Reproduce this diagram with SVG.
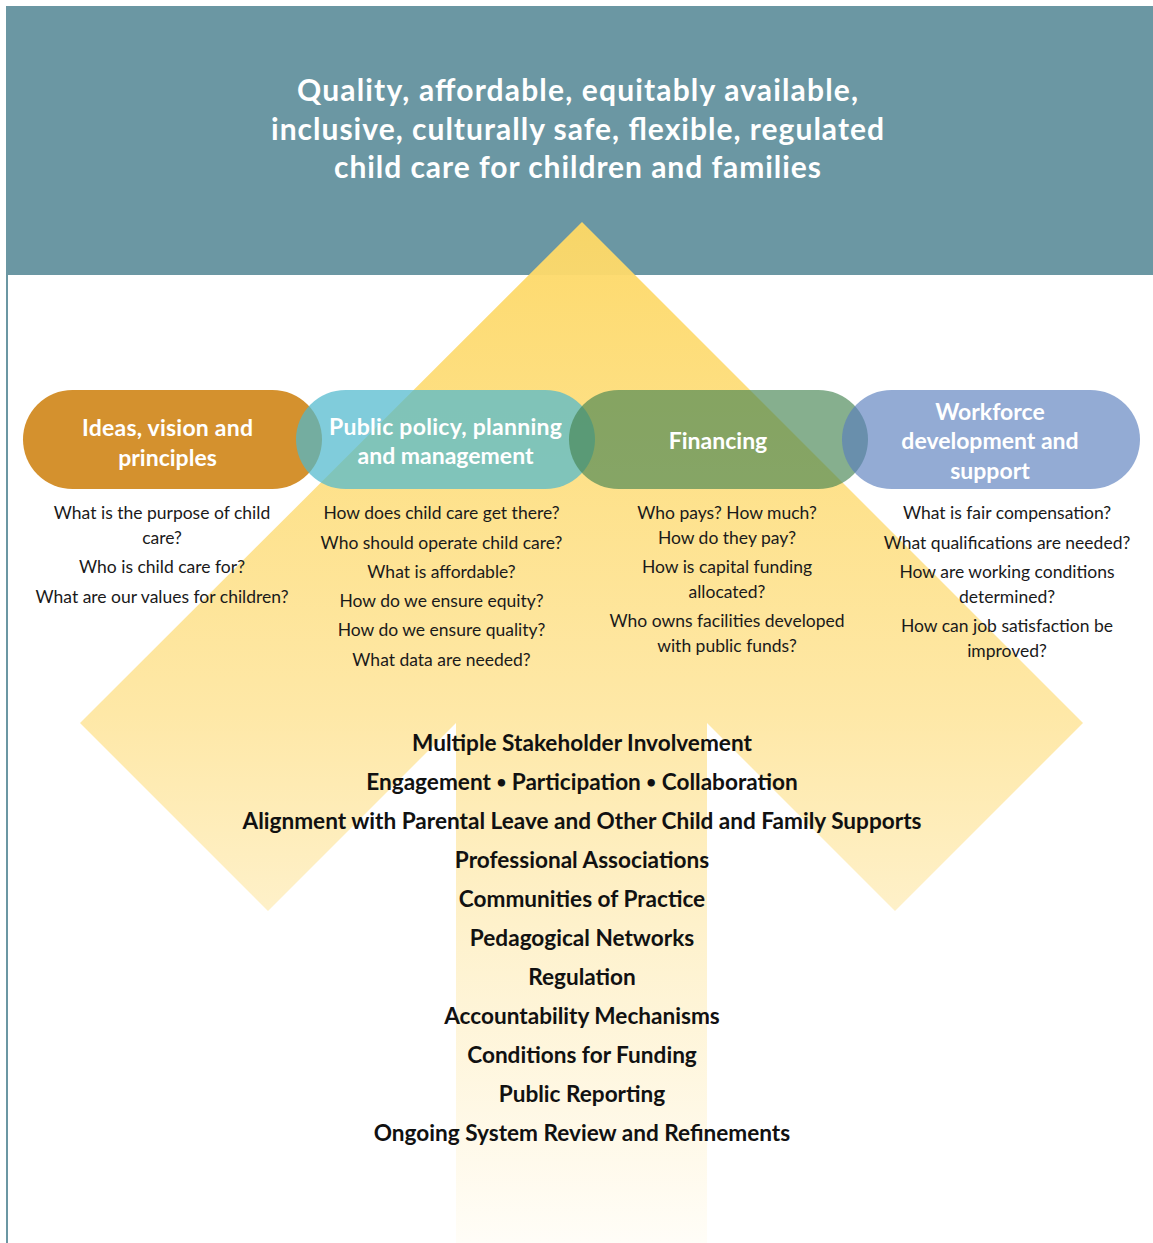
<svg xmlns="http://www.w3.org/2000/svg" width="1153" height="1243" viewBox="0 0 1153 1243">
<defs>
<linearGradient id="arrowGrad" gradientUnits="userSpaceOnUse" x1="0" y1="222" x2="0" y2="1243">
<stop offset="0" stop-color="#FDD865"/>
<stop offset="0.48" stop-color="#FEE7A3"/>
<stop offset="0.7" stop-color="#FEF1CB"/>
<stop offset="1" stop-color="#FFFDF7"/>
</linearGradient>
<style>
.title{font-family:Lato,"Liberation Sans",sans-serif;font-weight:700;font-size:30px;fill:#FFFFFF;text-anchor:middle}
.pilltxt{font-family:Lato,"Liberation Sans",sans-serif;font-weight:700;font-size:23px;fill:#FFFFFF;text-anchor:middle}
.q{font-family:Lato,"Liberation Sans",sans-serif;font-size:17.5px;fill:#1A1A1A;text-anchor:middle}
.list{font-family:Lato,"Liberation Sans",sans-serif;font-weight:700;font-size:22.6px;fill:#111111;text-anchor:middle}
</style>
</defs>
<rect x="0" y="0" width="1153" height="1243" fill="#FFFFFF"/>
<g id="banner">
<rect x="6" y="6" width="1147" height="269" fill="#6B97A3"/>
<line x1="7" y1="275" x2="7" y2="1243" stroke="#6B97A3" stroke-width="2"/>
</g>
<g id="arrow">
<polygon points="582,222 1083,723 895,911 707,723 707,1243 456,1243 456,723 268,911 80,723" fill="url(#arrowGrad)" opacity="0.96"/>
</g>
<g id="banner-text">
<text class="title" x="577.5" y="101" textLength="561">Quality, affordable, equitably available,</text>
<text class="title" x="577.5" y="140" textLength="613">inclusive, culturally safe, flexible, regulated</text>
<text class="title" x="577.5" y="178" textLength="487">child care for children and families</text>
</g>
<g id="node-ideas">
<rect x="23" y="390" width="299" height="99" rx="49.5" fill="#D4912E"/>
<text class="pilltxt" x="167.5" y="436" textLength="171">Ideas, vision and</text>
<text class="pilltxt" x="167.5" y="466">principles</text>
</g>
<g id="node-policy">
<rect x="296" y="390" width="299" height="99" rx="49.5" fill="#4FB9CD" fill-opacity="0.72"/>
<text class="pilltxt" x="445.5" y="435" textLength="233">Public policy, planning</text>
<text class="pilltxt" x="445.5" y="464">and management</text>
</g>
<g id="node-financing">
<rect x="569" y="390" width="299" height="99" rx="49.5" fill="#458451" fill-opacity="0.65"/>
<text class="pilltxt" x="718" y="449">Financing</text>
</g>
<g id="node-workforce">
<rect x="842" y="390" width="298" height="99" rx="49.5" fill="#597EBD" fill-opacity="0.65"/>
<text class="pilltxt" x="990" y="420">Workforce</text>
<text class="pilltxt" x="990" y="449">development and</text>
<text class="pilltxt" x="990" y="479">support</text>
</g>
<g id="questions-ideas">
<text class="q" x="162" y="519">What is the purpose of child</text>
<text class="q" x="162" y="544">care?</text>
<text class="q" x="162" y="573">Who is child care for?</text>
<text class="q" x="162" y="603">What are our values for children?</text>
</g>
<g id="questions-policy">
<text class="q" x="441.5" y="519">How does child care get there?</text>
<text class="q" x="441.5" y="549">Who should operate child care?</text>
<text class="q" x="441.5" y="578">What is affordable?</text>
<text class="q" x="441.5" y="607">How do we ensure equity?</text>
<text class="q" x="441.5" y="636">How do we ensure quality?</text>
<text class="q" x="441.5" y="666">What data are needed?</text>
</g>
<g id="questions-financing">
<text class="q" x="727" y="519">Who pays? How much?</text>
<text class="q" x="727" y="544">How do they pay?</text>
<text class="q" x="727" y="573">How is capital funding</text>
<text class="q" x="727" y="598">allocated?</text>
<text class="q" x="727" y="627">Who owns facilities developed</text>
<text class="q" x="727" y="652">with public funds?</text>
</g>
<g id="questions-workforce">
<text class="q" x="1007" y="519">What is fair compensation?</text>
<text class="q" x="1007" y="549">What qualifications are needed?</text>
<text class="q" x="1007" y="578">How are working conditions</text>
<text class="q" x="1007" y="603">determined?</text>
<text class="q" x="1007" y="632">How can job satisfaction be</text>
<text class="q" x="1007" y="657">improved?</text>
</g>
<g id="mechanisms">
<text class="list" x="582" y="751">Multiple Stakeholder Involvement</text>
<text class="list" x="582" y="790">Engagement <tspan font-size="17" dy="-2">•</tspan><tspan dy="2"> Participation </tspan><tspan font-size="17" dy="-2">•</tspan><tspan dy="2"> Collaboration</tspan></text>
<text class="list" x="582" y="829">Alignment with Parental Leave and Other Child and Family Supports</text>
<text class="list" x="582" y="868">Professional Associations</text>
<text class="list" x="582" y="907">Communities of Practice</text>
<text class="list" x="582" y="946">Pedagogical Networks</text>
<text class="list" x="582" y="985">Regulation</text>
<text class="list" x="582" y="1024">Accountability Mechanisms</text>
<text class="list" x="582" y="1063">Conditions for Funding</text>
<text class="list" x="582" y="1102">Public Reporting</text>
<text class="list" x="582" y="1141">Ongoing System Review and Refinements</text>
</g>
</svg>
